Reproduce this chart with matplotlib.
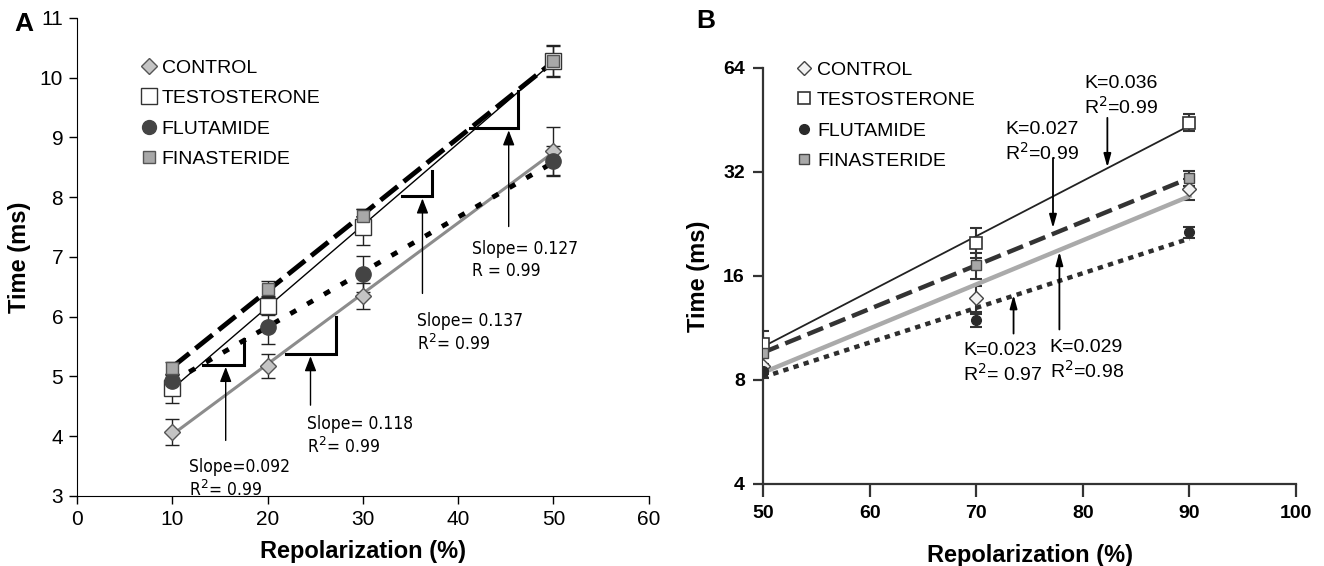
import numpy as np
import matplotlib
matplotlib.use("Agg")
import matplotlib.pyplot as plt
from matplotlib.lines import Line2D

plt.rcParams['font.family'] = ['Liberation Sans', 'DejaVu Sans']

# ---- Panel A data (linear time vs repolarization) ----
a_x = [10, 20, 30, 50]
a_control = [4.07, 5.18, 6.35, 8.78]
a_control_err = [0.22, 0.20, 0.22, 0.40]
a_testo = [4.80, 6.18, 7.50, 10.28]
a_testo_err = [0.25, 0.15, 0.30, 0.27]
a_fluta = [4.93, 5.83, 6.72, 8.60]
a_fluta_err = [0.10, 0.28, 0.30, 0.25]
a_finas = [5.15, 6.47, 7.68, 10.28]
a_finas_err = [0.10, 0.13, 0.12, 0.25]

# ---- Panel B data (log2 time vs repolarization) ----
b_x = [50, 70, 90]
b_control = [8.8, 13.8, 28.5]
b_control_err = [0.5, 1.2, 2.0]
b_testo = [10.2, 20.0, 44.5]
b_testo_err = [0.9, 2.0, 2.5]
b_fluta = [8.5, 11.9, 21.4]
b_fluta_err = [0.4, 0.5, 0.8]
b_finas = [9.6, 17.2, 30.7]
b_finas_err = [0.8, 1.5, 1.5]

labels = ['CONTROL', 'TESTOSTERONE', 'FLUTAMIDE', 'FINASTERIDE']

fig = plt.figure(figsize=(13.24, 5.66), dpi=100)
axA = fig.add_axes([0.0582, 0.1237, 0.4318, 0.8445])
axB = fig.add_axes([0.5763, 0.1449, 0.4026, 0.7350])

# marker styles per group (A)
mA = {
    'CONTROL': dict(marker='D', ms=8, mfc='#c4c4c4', mec='#555555', mew=1),
    'TESTOSTERONE': dict(marker='s', ms=12, mfc='white', mec='#333333', mew=1),
    'FLUTAMIDE': dict(marker='o', ms=11, mfc='#444444', mec='#444444', mew=1),
    'FINASTERIDE': dict(marker='s', ms=9, mfc='#a8a8a8', mec='#555555', mew=1),
}

# --- Panel A ---
groupsA = [(a_control, a_control_err), (a_testo, a_testo_err),
           (a_fluta, a_fluta_err), (a_finas, a_finas_err)]
for name, (yv, ev) in zip(labels, groupsA):
    axA.errorbar(a_x, yv, yerr=ev, fmt='none', ecolor='#222222',
                 elinewidth=1, capsize=5, capthick=1, zorder=2)

xs = np.array([a_x[0], a_x[-1]])
line_styles_A = {
    'CONTROL': dict(color='#8c8c8c', lw=2.2, ls='-'),
    'TESTOSTERONE': dict(color='black', lw=1.0, ls='-'),
    'FLUTAMIDE': dict(color='black', lw=3.5, ls=(0, (1.4, 2.6))),
    'FINASTERIDE': dict(color='black', lw=3.5, ls=(0, (4.5, 1.6))),
}
for name, (yv, ev) in zip(labels, groupsA):
    k, b = np.polyfit(a_x, yv, 1)
    axA.plot(xs, k * xs + b, zorder=3, **line_styles_A[name])
for name, (yv, ev) in zip(labels, groupsA):
    axA.plot(a_x, yv, ls='none', zorder=4, **mA[name])

# slope "steps" with arrows and texts (layout only)
stepsA = [
    # (x0, x1, ybase, ytop, arrow_x, arrow_y0, text_x, text_y, text)
    (13.2, 17.5, 5.20, 5.62, 15.6, 3.93, 11.8, 3.63, 'Slope=0.092\nR$^2$= 0.99'),
    (21.9, 27.2, 5.38, 6.00, 24.5, 4.52, 24.1, 4.36, 'Slope= 0.118\nR$^2$= 0.99'),
    (34.1, 37.2, 8.02, 8.44, 36.25, 6.39, 35.7, 6.08, 'Slope= 0.137\nR$^2$= 0.99'),
    (41.2, 46.3, 9.16, 9.78, 45.3, 7.51, 41.4, 7.28, 'Slope= 0.127\nR = 0.99'),
]
for x0, x1, yb, yt, ax_, ay0, tx, ty, txt in stepsA:
    axA.plot([x0, x1, x1], [yb, yb, yt], color='black', lw=2.2, zorder=5,
             solid_joinstyle='miter')
    axA.annotate('', xy=(ax_, yb - 0.04), xytext=(ax_, ay0),
                 arrowprops=dict(arrowstyle='-|>,head_length=0.9,head_width=0.35',
                                 color='black', lw=1.0, shrinkA=0, shrinkB=0))
    axA.text(tx, ty, txt, fontsize=12.5, va='top', ha='left',
             family=['DejaVu Sans'], fontstretch='condensed', linespacing=1.25)

axA.set_xlim(0, 60)
axA.set_ylim(3, 11)
axA.set_xticks(range(0, 61, 10))
axA.set_yticks(range(3, 12))
for s in ['top', 'right']:
    axA.spines[s].set_visible(False)
axA.spines['left'].set_bounds(3, 11)
axA.tick_params(direction='out', length=6, width=1, labelsize=15, pad=4)
axA.set_xlabel('Repolarization (%)', fontsize=17, fontweight='bold', labelpad=8)
axA.set_ylabel('Time (ms)', fontsize=17, fontweight='bold')
axA.yaxis.set_label_coords(-0.08, 0.5)

handlesA = [Line2D([], [], ls='none', **mA[n]) for n in labels]
for h, n in zip(handlesA, labels):
    if n == 'TESTOSTERONE':
        h.set_markersize(11)
    if n == 'FLUTAMIDE':
        h.set_markersize(10)
axA.legend(handlesA, labels, loc='upper left', bbox_to_anchor=(0.102, 0.93),
           frameon=False, fontsize=14, handlelength=0.6, handletextpad=0.35,
           labelspacing=0.66, borderaxespad=0)

fig.text(0.011, 0.958, 'A', fontsize=19, fontweight='bold', va='center')

# --- Panel B ---
mB = {
    'CONTROL': dict(marker='D', ms=7, mfc='#f2f2f2', mec='#444444', mew=1),
    'TESTOSTERONE': dict(marker='s', ms=8, mfc='white', mec='#333333', mew=1.2),
    'FLUTAMIDE': dict(marker='o', ms=7, mfc='#2a2a2a', mec='#2a2a2a', mew=1),
    'FINASTERIDE': dict(marker='s', ms=7, mfc='#a8a8a8', mec='#444444', mew=1),
}
groupsB = [(b_control, b_control_err), (b_testo, b_testo_err),
           (b_fluta, b_fluta_err), (b_finas, b_finas_err)]
for name, (yv, ev) in zip(labels, groupsB):
    axB.errorbar(b_x, yv, yerr=ev, fmt='none', ecolor='#333333',
                 elinewidth=1.5, capsize=4, capthick=1.5, zorder=2)

line_styles_B = {
    'CONTROL': dict(color='#aaaaaa', lw=3.2, ls='-'),
    'TESTOSTERONE': dict(color='#222222', lw=1.3, ls='-'),
    'FLUTAMIDE': dict(color='#2e2e2e', lw=3.2, ls=(0, (1.2, 1.2))),
    'FINASTERIDE': dict(color='#333333', lw=3.2, ls=(0, (3.8, 1.6))),
}
xsB = np.array([b_x[0], b_x[-1]])
for name, (yv, ev) in zip(labels, groupsB):
    k, b = np.polyfit(b_x, np.log2(yv), 1)
    axB.plot(xsB, 2 ** (k * xsB + b), zorder=3, **line_styles_B[name])
for name, (yv, ev) in zip(labels, groupsB):
    axB.plot(b_x, yv, ls='none', zorder=4, **mB[name])

# K annotations: (text_x, text_y, arrow_x, arrow_from, arrow_to, text)
notesB = [
    (80.1, 61.0, 82.3, 45.9, 33.0, 'K=0.036\nR$^2$=0.99'),
    (72.7, 45.0, 77.2, 35.1, 22.0, 'K=0.027\nR$^2$=0.99'),
    (68.8, 10.3, 73.5, 10.9, 14.1, 'K=0.023\nR$^2$= 0.97'),
    (76.9, 10.5, 77.8, 11.2, 18.8, 'K=0.029\nR$^2$=0.98'),
]
for tx, ty, axx, a0, a1, txt in notesB:
    axB.annotate('', xy=(axx, a1), xytext=(axx, a0),
                 arrowprops=dict(arrowstyle='-|>,head_length=0.8,head_width=0.22',
                                 color='black', lw=1.3, shrinkA=0, shrinkB=0))
    axB.text(tx, ty, txt, fontsize=14, va='top', ha='left',
             fontstretch='condensed', linespacing=1.2)

axB.set_yscale('log', base=2)
axB.set_xlim(50, 100)
axB.set_ylim(4, 64)
axB.set_xticks(range(50, 101, 10))
axB.set_yticks([4, 8, 16, 32, 64])
axB.set_yticklabels(['4', '8', '16', '32', '64'])
axB.minorticks_off()
for s in ['top', 'right']:
    axB.spines[s].set_visible(False)
for s in ['left', 'bottom']:
    axB.spines[s].set_linewidth(1.6)
    axB.spines[s].set_color('#333333')
axB.tick_params(axis='x', direction='out', length=9, width=1.6, color='#333333',
                labelsize=14, pad=6)
axB.tick_params(axis='y', direction='out', length=7, width=1.6, color='#333333',
                labelsize=14, pad=6)
for lab in axB.get_xticklabels() + axB.get_yticklabels():
    lab.set_fontweight('bold')
axB.set_xlabel('Repolarization (%)', fontsize=17, fontweight='bold', labelpad=16)
axB.set_ylabel('Time (ms)', fontsize=17, fontweight='bold')
axB.yaxis.set_label_coords(-0.10, 0.5)

handlesB = [Line2D([], [], ls='none', **mB[n]) for n in labels]
axB.legend(handlesB, labels, loc='upper left', bbox_to_anchor=(0.052, 1.035),
           frameon=False, fontsize=14, handlelength=0.6, handletextpad=0.35,
           labelspacing=0.66, borderaxespad=0)

fig.text(0.526, 0.963, 'B', fontsize=19, fontweight='bold', va='center')

fig.savefig('out.png', dpi=100)
